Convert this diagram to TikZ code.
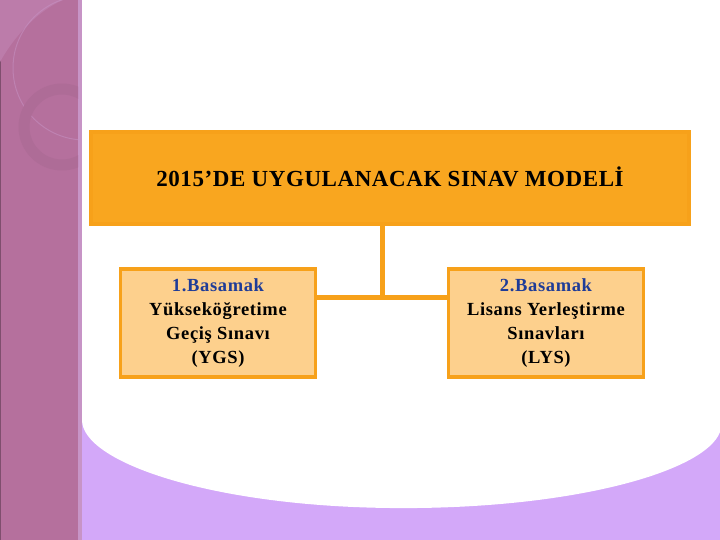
\documentclass[tikz,border=0pt]{standalone}
\usepackage{fontspec}
\setmainfont{Liberation Serif}
\begin{document}
\begin{tikzpicture}[x=1pt,y=-1pt,
  topbox/.style={draw=orangeB,line width=4pt,fill=orangeA,minimum width=598pt,minimum height=92pt,inner sep=0pt,font=\bfseries\fontsize{23}{26}\selectfont\addfontfeature{LetterSpace=2.5}},
  subbox/.style={draw=orangeB,line width=3.5pt,fill=orangeL,minimum width=195pt,minimum height=108pt,inner sep=0pt,align=center,font=\bfseries\fontsize{18.5}{24}\selectfont\addfontfeature{LetterSpace=3.5}},
  conn/.style={draw=orangeB,line width=5pt}]
\definecolor{orangeA}{HTML}{F9A61F}
\definecolor{orangeB}{HTML}{F7A11A}
\definecolor{orangeL}{HTML}{FDD08D}
\definecolor{mauve}{HTML}{B5709D}
\definecolor{mauveL}{HTML}{C794C6}
\definecolor{mauveP}{HTML}{BC7CAA}
\definecolor{lav}{HTML}{D3A8F9}
\definecolor{bluet}{HTML}{1F3C98}
\useasboundingbox (0,0) rectangle (720,540);
% background
\fill[white] (0,0) rectangle (720,540);
\fill[lav] (82,380) rectangle (720,540);
\fill[white] (82,0) -- (82,420) .. controls (82,462) and (210,506) .. (390,508)
  .. controls (570,510) and (705,472) .. (720,432) -- (720,0) -- cycle;
% sidebar
\fill[mauve] (0,0) rectangle (78,540);
\fill[mauveL] (78,0) rectangle (82,540);
\fill[black!30!mauve] (0,0) rectangle (1.2,540);
\begin{scope}
\clip (0,0) rectangle (78,540);
\fill[mauveP] (0,0) -- (0,62) .. controls (12,40) and (35,12) .. (63,0) -- cycle;
\draw[mauveL,line width=1pt,opacity=0.5] (85,68) circle (72);
\draw[black!4!mauve,line width=11pt] (62,127) circle (38);
\end{scope}
% nodes
\node[topbox] (top) at (390,178) {\raisebox{2pt}{2015’DE UYGULANACAK SINAV MODELİ}};
\node[subbox] (ygs) at (218,323) {\textcolor{bluet}{1.Basamak}\\Yükseköğretime\\Geçiş Sınavı\\(YGS)};
\node[subbox] (lys) at (546,323) {\textcolor{bluet}{2.Basamak}\\Lisans Yerleştirme\\Sınavları\\(LYS)};
\coordinate (j) at (382,297);
\draw[conn] (top.south -| j) -- (j);
\draw[conn] (ygs.east |- j) -- (lys.west |- j);
\end{tikzpicture}
\end{document}
